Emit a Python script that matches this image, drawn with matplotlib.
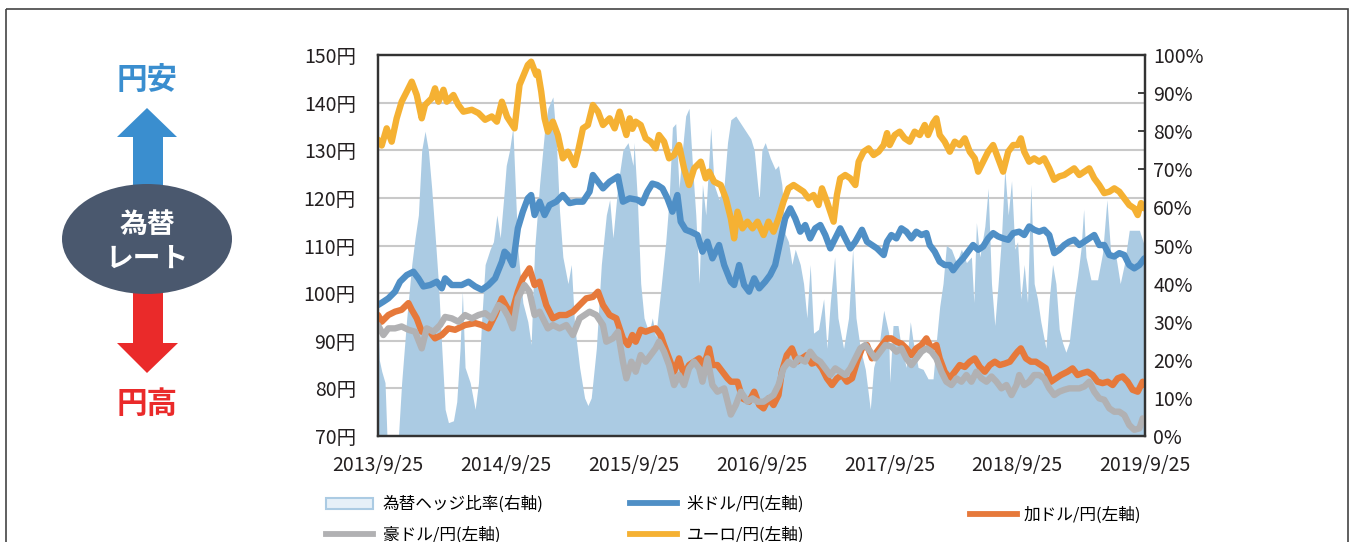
import matplotlib
matplotlib.use('Agg')
import matplotlib.pyplot as plt
from matplotlib.patches import Polygon, Ellipse, Rectangle, Patch
from matplotlib.lines import Line2D
from matplotlib.transforms import blended_transform_factory

plt.rcParams['font.family'] = ['Noto Sans CJK JP', 'DejaVu Sans']

# ---------------- data ----------------
date_labels = ['2013/9/25', '2014/9/25', '2015/9/25', '2016/9/25',
               '2017/9/25', '2018/9/25', '2019/9/25']
yen_ticks = [70, 80, 90, 100, 110, 120, 130, 140, 150]
pct_ticks = [0, 10, 20, 30, 40, 50, 60, 70, 80, 90, 100]

# time axis: years elapsed since 2013/9/25
eur = [(0.0, 132.2), (0.029, 131.0), (0.068, 134.6), (0.107, 131.8), (0.146, 136.7), (0.185, 140.2),
       (0.225, 142.3), (0.264, 144.4), (0.303, 141.6), (0.342, 136.7), (0.368, 139.5), (0.420, 140.9),
       (0.446, 143.0), (0.473, 140.2), (0.512, 142.7), (0.538, 140.2), (0.590, 141.6), (0.629, 139.5),
       (0.668, 138.1), (0.734, 138.5), (0.786, 137.8), (0.838, 136.4), (0.890, 137.1), (0.930, 136.0),
       (0.969, 140.2), (1.010, 137.0), (1.068, 134.6), (1.107, 143.7), (1.172, 147.9), (1.198, 148.6),
       (1.238, 145.8), (1.251, 146.5), (1.277, 142.3), (1.303, 136.7), (1.329, 133.9), (1.368, 136.0),
       (1.407, 133.2), (1.446, 128.3), (1.486, 129.7), (1.538, 126.9), (1.564, 129.7), (1.603, 134.6),
       (1.642, 135.3), (1.681, 139.5), (1.721, 138.1), (1.760, 135.3), (1.812, 136.7), (1.851, 134.6),
       (1.890, 138.1), (1.943, 133.2), (1.969, 136.7), (1.990, 134.5), (2.016, 136.0), (2.055, 135.3),
       (2.094, 132.5), (2.133, 131.8), (2.172, 130.4), (2.198, 133.2), (2.238, 131.8), (2.277, 128.3),
       (2.316, 129.0), (2.355, 131.1), (2.394, 126.2), (2.433, 122.7), (2.473, 126.2), (2.525, 127.6),
       (2.564, 124.1), (2.590, 125.5), (2.629, 123.4), (2.681, 122.7), (2.721, 119.9), (2.760, 115.7),
       (2.786, 111.5), (2.812, 117.1), (2.851, 113.6), (2.890, 115.0), (2.930, 113.6), (2.969, 115.0),
       (3.016, 112.2), (3.055, 115.0), (3.094, 112.9), (3.133, 115.7), (3.172, 119.2), (3.211, 122.0),
       (3.251, 122.7), (3.290, 122.0), (3.329, 121.3), (3.368, 119.9), (3.407, 120.6), (3.446, 118.5),
       (3.473, 122.0), (3.512, 119.2), (3.538, 117.1), (3.564, 115.0), (3.590, 120.6), (3.616, 124.1),
       (3.655, 124.8), (3.695, 124.1), (3.734, 122.7), (3.760, 127.6), (3.799, 129.7), (3.838, 130.4),
       (3.877, 129.0), (3.916, 129.7), (3.956, 131.1), (3.982, 133.6), (4.003, 131.1), (4.042, 133.2),
       (4.081, 133.9), (4.120, 132.5), (4.159, 131.8), (4.198, 133.9), (4.238, 133.2), (4.277, 135.3),
       (4.303, 133.2), (4.342, 135.7), (4.368, 136.7), (4.394, 133.2), (4.433, 131.8), (4.473, 129.7),
       (4.512, 131.8), (4.551, 131.1), (4.590, 132.5), (4.629, 129.7), (4.668, 128.3), (4.695, 125.5),
       (4.734, 127.6), (4.773, 129.7), (4.812, 131.1), (4.851, 128.3), (4.890, 125.5), (4.930, 129.7),
       (4.969, 131.1), (5.003, 131.1), (5.029, 132.5), (5.055, 129.7), (5.094, 127.6), (5.133, 128.3),
       (5.172, 127.6), (5.211, 128.3), (5.251, 126.2), (5.290, 123.8), (5.329, 124.5), (5.368, 124.8),
       (5.407, 125.5), (5.446, 126.2), (5.486, 124.8), (5.525, 125.5), (5.564, 126.2), (5.603, 124.1),
       (5.642, 122.7), (5.681, 121.0), (5.721, 121.3), (5.760, 122.0), (5.799, 121.3), (5.838, 119.9),
       (5.877, 118.5), (5.916, 117.8), (5.943, 116.4), (5.969, 118.9), (5.995, 117.8), (6.0, 118.5)]

usd = [(0.0, 97.5), (0.042, 98.2), (0.081, 98.9), (0.133, 100.3), (0.172, 102.4), (0.225, 103.8),
       (0.277, 104.5), (0.316, 103.1), (0.355, 101.4), (0.407, 101.7), (0.460, 102.4), (0.499, 101.0),
       (0.525, 103.1), (0.577, 101.7), (0.655, 101.7), (0.708, 102.4), (0.760, 101.4), (0.812, 100.7),
       (0.864, 101.7), (0.916, 103.1), (0.969, 106.6), (0.990, 108.7), (1.016, 108.0), (1.055, 105.9),
       (1.094, 113.6), (1.133, 117.1), (1.172, 119.9), (1.198, 120.6), (1.225, 116.4), (1.264, 119.2),
       (1.303, 116.4), (1.342, 118.5), (1.394, 119.2), (1.446, 120.6), (1.499, 118.9), (1.551, 119.2),
       (1.603, 119.2), (1.655, 121.3), (1.681, 124.8), (1.721, 123.4), (1.760, 122.0), (1.812, 123.4),
       (1.877, 124.5), (1.916, 119.2), (1.969, 119.9), (2.029, 119.6), (2.068, 118.9), (2.107, 121.3),
       (2.146, 123.0), (2.185, 122.7), (2.225, 122.0), (2.264, 119.9), (2.303, 117.1), (2.342, 120.6),
       (2.368, 115.0), (2.407, 113.3), (2.446, 112.9), (2.499, 112.2), (2.538, 108.7), (2.577, 110.8),
       (2.616, 107.3), (2.668, 110.1), (2.708, 105.9), (2.760, 102.4), (2.786, 101.7), (2.825, 105.9),
       (2.864, 101.7), (2.903, 100.3), (2.943, 103.1), (2.982, 101.0), (3.029, 102.4), (3.068, 103.8),
       (3.107, 105.9), (3.146, 110.8), (3.185, 115.7), (3.225, 117.8), (3.264, 115.7), (3.303, 112.9),
       (3.342, 114.3), (3.381, 111.5), (3.420, 113.6), (3.460, 114.3), (3.499, 112.2), (3.538, 109.4),
       (3.577, 111.5), (3.616, 113.6), (3.655, 111.5), (3.695, 109.4), (3.734, 110.8), (3.786, 113.3),
       (3.825, 110.8), (3.864, 110.1), (3.903, 109.4), (3.956, 108.0), (3.982, 110.8), (4.016, 112.2),
       (4.055, 111.5), (4.094, 113.6), (4.133, 112.9), (4.172, 111.5), (4.211, 112.9), (4.251, 112.2),
       (4.290, 112.6), (4.316, 110.1), (4.355, 108.7), (4.394, 106.6), (4.433, 105.9), (4.473, 105.9),
       (4.499, 104.8), (4.538, 106.2), (4.577, 107.3), (4.616, 108.7), (4.655, 110.1), (4.695, 109.1),
       (4.734, 109.8), (4.773, 111.5), (4.812, 112.6), (4.851, 111.9), (4.890, 111.5), (4.930, 111.2),
       (4.969, 112.6), (5.016, 112.9), (5.055, 112.2), (5.094, 114.0), (5.133, 113.3), (5.172, 112.9),
       (5.211, 113.3), (5.251, 112.2), (5.290, 108.4), (5.329, 109.1), (5.368, 110.1), (5.407, 110.8),
       (5.446, 111.2), (5.486, 110.1), (5.525, 110.8), (5.564, 111.5), (5.603, 112.2), (5.642, 110.1),
       (5.681, 110.1), (5.721, 108.0), (5.760, 107.7), (5.799, 108.4), (5.838, 108.0), (5.877, 105.9),
       (5.916, 105.2), (5.956, 105.9), (5.995, 107.3), (6.0, 107.0)]

cad = [(0.0, 95.4), (0.029, 94.0), (0.081, 95.4), (0.133, 96.1), (0.185, 96.5), (0.238, 97.9),
       (0.264, 96.5), (0.303, 94.7), (0.342, 91.9), (0.394, 92.3), (0.446, 90.5), (0.499, 91.2),
       (0.551, 92.6), (0.603, 92.3), (0.681, 93.3), (0.760, 93.7), (0.812, 93.3), (0.864, 92.6),
       (0.916, 95.4), (0.969, 98.9), (1.042, 95.4), (1.094, 100.3), (1.133, 103.1), (1.185, 105.2),
       (1.225, 101.7), (1.264, 102.4), (1.316, 97.5), (1.368, 94.7), (1.420, 95.4), (1.473, 95.4),
       (1.525, 96.1), (1.577, 97.5), (1.629, 98.9), (1.681, 99.2), (1.721, 100.3), (1.760, 97.5),
       (1.812, 95.4), (1.864, 94.7), (1.916, 90.5), (1.956, 89.1), (1.990, 91.2), (2.016, 89.8),
       (2.055, 92.3), (2.094, 91.9), (2.133, 92.3), (2.172, 92.6), (2.211, 91.2), (2.238, 89.1),
       (2.277, 86.3), (2.316, 83.5), (2.355, 86.3), (2.394, 82.8), (2.433, 84.9), (2.473, 85.6),
       (2.512, 86.3), (2.551, 84.9), (2.590, 88.4), (2.616, 84.9), (2.655, 84.9), (2.695, 83.5),
       (2.734, 82.1), (2.760, 81.4), (2.812, 81.4), (2.851, 77.9), (2.903, 77.2), (2.943, 79.3),
       (2.982, 76.5), (3.016, 75.8), (3.055, 77.9), (3.094, 76.5), (3.133, 78.6), (3.159, 83.5),
       (3.198, 87.0), (3.238, 88.4), (3.277, 85.6), (3.316, 86.3), (3.355, 87.0), (3.394, 85.2),
       (3.433, 85.6), (3.473, 84.2), (3.512, 82.1), (3.551, 80.7), (3.590, 82.1), (3.629, 82.8),
       (3.668, 81.4), (3.708, 82.1), (3.747, 85.6), (3.786, 88.4), (3.825, 89.1), (3.864, 86.3),
       (3.903, 87.7), (3.943, 89.1), (3.982, 90.5), (4.016, 90.5), (4.055, 89.8), (4.094, 89.4),
       (4.133, 88.4), (4.172, 87.0), (4.211, 88.4), (4.251, 89.1), (4.290, 90.5), (4.329, 88.4),
       (4.368, 89.1), (4.394, 86.3), (4.433, 83.5), (4.473, 82.1), (4.512, 83.5), (4.551, 84.9),
       (4.590, 84.5), (4.629, 85.6), (4.668, 86.3), (4.708, 84.5), (4.747, 83.5), (4.786, 84.9),
       (4.825, 85.6), (4.864, 84.9), (4.903, 85.2), (4.943, 85.6), (4.982, 87.0), (5.003, 87.7),
       (5.029, 88.4), (5.068, 86.3), (5.107, 85.6), (5.146, 85.6), (5.185, 84.9), (5.225, 84.2),
       (5.264, 81.4), (5.303, 82.1), (5.342, 82.8), (5.394, 83.5), (5.433, 84.2), (5.473, 82.8),
       (5.512, 83.2), (5.551, 83.5), (5.590, 82.8), (5.629, 81.4), (5.668, 81.1), (5.708, 81.4),
       (5.747, 80.7), (5.786, 82.1), (5.825, 82.5), (5.864, 81.4), (5.903, 79.7), (5.943, 79.3),
       (5.982, 81.4), (6.0, 80.7)]

aud = [(0.0, 93.3), (0.042, 91.2), (0.081, 92.6), (0.133, 92.6), (0.185, 93.0), (0.238, 92.3),
       (0.290, 91.9), (0.342, 88.4), (0.381, 92.6), (0.433, 91.9), (0.486, 93.3), (0.525, 95.0),
       (0.577, 94.7), (0.629, 94.0), (0.681, 95.4), (0.734, 94.7), (0.786, 95.4), (0.838, 95.8),
       (0.890, 94.7), (0.943, 97.5), (0.982, 96.8), (1.020, 95.0), (1.055, 92.6), (1.094, 98.9),
       (1.146, 101.7), (1.185, 100.3), (1.225, 95.4), (1.264, 96.1), (1.329, 92.6), (1.368, 93.3),
       (1.420, 92.6), (1.473, 93.3), (1.525, 91.2), (1.577, 94.7), (1.655, 96.1), (1.708, 95.4),
       (1.760, 93.3), (1.786, 89.8), (1.838, 90.5), (1.877, 91.9), (1.916, 85.6), (1.943, 82.1),
       (1.982, 85.6), (2.016, 83.5), (2.055, 87.0), (2.094, 85.6), (2.133, 87.0), (2.172, 88.4),
       (2.198, 89.8), (2.238, 87.7), (2.277, 84.9), (2.316, 80.7), (2.355, 82.8), (2.394, 80.7),
       (2.433, 84.2), (2.473, 85.6), (2.512, 84.2), (2.538, 81.4), (2.577, 86.3), (2.616, 80.7),
       (2.655, 79.3), (2.708, 80.0), (2.760, 74.5), (2.799, 76.5), (2.838, 79.3), (2.890, 77.2),
       (2.930, 77.9), (2.969, 77.2), (3.016, 77.2), (3.055, 77.9), (3.094, 78.6), (3.133, 80.7),
       (3.172, 84.2), (3.211, 85.6), (3.251, 84.9), (3.290, 86.3), (3.342, 85.6), (3.381, 87.7),
       (3.420, 86.3), (3.460, 85.6), (3.499, 84.2), (3.538, 82.8), (3.577, 84.2), (3.616, 83.5),
       (3.655, 82.8), (3.695, 84.2), (3.734, 86.3), (3.773, 88.4), (3.812, 89.1), (3.851, 87.7),
       (3.890, 86.3), (3.930, 87.7), (3.969, 89.1), (4.016, 88.8), (4.055, 87.7), (4.094, 88.4),
       (4.133, 86.3), (4.172, 84.9), (4.211, 86.3), (4.251, 87.7), (4.290, 88.4), (4.329, 87.7),
       (4.368, 86.3), (4.407, 83.5), (4.446, 81.4), (4.486, 80.7), (4.525, 82.1), (4.564, 81.4),
       (4.603, 82.8), (4.642, 81.4), (4.681, 83.5), (4.721, 82.1), (4.760, 81.4), (4.799, 82.5),
       (4.838, 81.4), (4.877, 80.0), (4.916, 80.7), (4.956, 78.6), (4.995, 80.7), (5.016, 82.8),
       (5.055, 80.7), (5.094, 81.4), (5.133, 82.8), (5.172, 82.8), (5.211, 82.1), (5.251, 80.0),
       (5.290, 78.6), (5.329, 79.3), (5.368, 79.7), (5.407, 80.0), (5.446, 80.0), (5.486, 80.0),
       (5.525, 80.4), (5.564, 81.4), (5.603, 79.3), (5.642, 77.9), (5.681, 77.6), (5.721, 75.8),
       (5.760, 75.1), (5.799, 75.1), (5.838, 74.4), (5.877, 72.3), (5.916, 71.3), (5.956, 71.6),
       (5.982, 73.7), (6.0, 73.0)]

hedge = [(0.0, 32), (0.010, 20), (0.029, 17), (0.055, 14), (0.070, 0), (0.160, 0), (0.185, 14),
         (0.225, 31), (0.264, 45), (0.290, 52), (0.316, 58), (0.342, 75), (0.368, 80), (0.394, 75),
         (0.420, 65), (0.446, 53), (0.473, 40), (0.499, 23), (0.525, 7), (0.551, 3.5), (0.590, 4),
         (0.616, 9), (0.642, 23), (0.660, 38), (0.681, 18), (0.721, 14), (0.760, 7), (0.786, 14),
         (0.812, 31), (0.838, 45), (0.877, 49), (0.903, 51), (0.930, 58), (0.956, 52), (0.982, 62),
         (1.003, 71), (1.029, 75), (1.055, 81), (1.094, 49), (1.133, 35), (1.172, 30), (1.198, 24),
         (1.225, 49), (1.264, 66), (1.303, 80), (1.329, 86), (1.368, 89), (1.394, 78), (1.420, 59),
         (1.446, 47), (1.486, 40), (1.512, 45), (1.538, 29), (1.577, 18), (1.616, 10), (1.642, 8),
         (1.668, 10), (1.708, 23), (1.747, 45), (1.786, 58), (1.812, 62), (1.838, 52), (1.877, 66),
         (1.916, 75), (1.956, 77), (1.995, 71), (2.003, 77), (2.029, 62), (2.055, 40), (2.081, 31),
         (2.120, 27), (2.146, 31), (2.172, 26), (2.211, 38), (2.251, 51), (2.277, 62), (2.303, 81),
         (2.329, 82), (2.355, 65), (2.381, 75), (2.407, 84), (2.433, 86), (2.460, 71), (2.486, 58),
         (2.512, 40), (2.538, 66), (2.564, 58), (2.603, 81), (2.629, 66), (2.668, 62), (2.708, 66),
         (2.734, 77), (2.760, 83), (2.799, 84), (2.838, 82), (2.877, 80), (2.916, 78), (2.943, 75),
         (2.969, 66), (2.982, 62), (3.003, 75), (3.029, 77), (3.068, 73), (3.107, 70), (3.133, 71),
         (3.159, 66), (3.185, 53), (3.211, 51), (3.238, 45), (3.264, 49), (3.303, 45), (3.329, 40),
         (3.355, 31), (3.381, 45), (3.407, 27), (3.446, 28), (3.486, 36), (3.512, 23), (3.538, 35),
         (3.572, 47), (3.598, 31), (3.642, 23), (3.681, 31), (3.713, 49), (3.739, 31), (3.773, 23),
         (3.812, 17.5), (3.851, 7), (3.877, 18), (3.916, 23), (3.956, 33), (3.995, 27), (4.003, 14),
         (4.029, 29), (4.068, 29), (4.094, 23), (4.133, 18), (4.164, 30), (4.185, 25), (4.225, 18),
         (4.264, 17.5), (4.303, 15), (4.342, 15), (4.368, 25), (4.394, 34), (4.420, 40), (4.446, 50),
         (4.486, 49), (4.525, 45.5), (4.564, 49), (4.603, 45.5), (4.642, 47), (4.661, 35), (4.681, 56),
         (4.708, 47), (4.747, 55), (4.773, 65), (4.799, 40), (4.825, 29), (4.851, 40), (4.877, 52),
         (4.903, 70), (4.930, 58), (4.956, 67), (4.982, 49), (5.003, 51), (5.029, 36), (5.055, 45),
         (5.081, 35), (5.107, 66), (5.133, 40), (5.159, 36), (5.185, 30), (5.225, 23), (5.251, 36),
         (5.277, 45), (5.303, 40), (5.329, 28), (5.355, 24.5), (5.381, 22), (5.407, 24.5), (5.446, 36),
         (5.473, 42), (5.499, 49), (5.520, 59.5), (5.538, 47), (5.577, 41), (5.629, 41), (5.668, 48),
         (5.702, 62), (5.734, 47), (5.773, 47), (5.806, 40), (5.838, 45), (5.877, 54), (5.916, 54),
         (5.956, 54), (5.995, 50), (6.0, 50)]

# ---------------- styling ----------------
C_AREA = '#abcbe3'
C_USD = '#4f8fc6'
C_EUR = '#f5b133'
C_CAD = '#e6793b'
C_AUD = '#b1b1b3'
C_TEXT = '#231f20'
C_SPINE = '#333333'

W, H = 1357, 542
fig = plt.figure(figsize=(W / 100, H / 100), dpi=100)
fig.patch.set_facecolor('white')

# overlay for the left-hand explanatory graphic and the outer frame (pixel coords)
ov = fig.add_axes([0, 0, 1, 1])
ov.set_xlim(0, W)
ov.set_ylim(H, 0)
ov.axis('off')
ov.add_patch(Rectangle((6, 9), 1342, 560, fill=False, edgecolor='#444444', lw=1.2))
ov.add_patch(Polygon([(133, 200), (133, 137), (117, 137), (147, 108), (177, 137), (163, 137), (163, 200)],
                     closed=True, facecolor='#3a8ecf', edgecolor='none'))
ov.add_patch(Polygon([(133, 280), (133, 343), (117, 343), (147, 373), (178, 343), (163, 343), (163, 280)],
                     closed=True, facecolor='#ea2a2a', edgecolor='none'))
ov.add_patch(Ellipse((147, 239), 170, 110, facecolor='#4a586e', edgecolor='none'))
ov.text(147, 80, '円安', color='#3a8ecf', fontsize=22, fontweight='bold', ha='center', va='center')
ov.text(147, 404, '円高', color='#ea2a2a', fontsize=22, fontweight='bold', ha='center', va='center')
ov.text(147, 225, '為替', color='white', fontsize=20, fontweight='bold', ha='center', va='center')
ov.text(147, 259, 'レート', color='white', fontsize=20, fontweight='bold', ha='center', va='center')

# main axes: host = hedge ratio (right scale, drawn below), twin = exchange rates (left scale)
ax = fig.add_axes([378 / W, 1 - 436 / H, 767 / W, 381 / H])
ax2 = ax.twinx()

ht, hv = zip(*hedge)
ax.fill_between(ht, hv, 0, color=C_AREA, lw=0, zorder=2)

# horizontal grid for the yen scale, kept beneath the area
blend = blended_transform_factory(ax.transAxes, ax2.transData)
for v in yen_ticks[1:-1]:
    ax.add_line(Line2D([0, 1], [v, v], transform=blend, color='#c9c9c9', lw=1.5, zorder=1))

lw = 4.6
for series, col in [(usd, C_USD), (cad, C_CAD), (aud, C_AUD), (eur, C_EUR)]:
    t, v = zip(*series)
    ax2.plot(t, v, color=col, lw=lw, solid_capstyle='round', solid_joinstyle='round')

ax.set_xlim(0, 6)
ax.set_ylim(0, 100)
ax2.set_ylim(70, 150)

ax.set_xticks(range(len(date_labels)))
ax.set_xticklabels(date_labels)
ax.tick_params(axis='x', direction='in', length=6, width=1.3, pad=14, labelsize=14,
               colors=C_SPINE, labelcolor=C_TEXT)

ax.yaxis.tick_right()
ax.set_yticks(pct_ticks)
ax.set_yticklabels([f'{p}%' for p in pct_ticks])
ax.tick_params(axis='y', direction='in', length=5, width=1.3, pad=6, labelsize=14,
               colors=C_SPINE, labelcolor=C_TEXT)

ax2.yaxis.tick_left()
ax2.set_yticks(yen_ticks)
ax2.set_yticklabels([f'{v}円' for v in yen_ticks])
ax2.tick_params(axis='y', length=0, pad=16, labelsize=14, labelcolor=C_TEXT)

for a in (ax, ax2):
    for s in a.spines.values():
        s.set_color(C_SPINE)
        s.set_linewidth(1.6)

# legend
h_hedge = Patch(facecolor='#e6f0f8', edgecolor=C_AREA, lw=1.5)
h_usd = Line2D([], [], color=C_USD, lw=4.2)
h_cad = Line2D([], [], color=C_CAD, lw=4.2)
h_aud = Line2D([], [], color=C_AUD, lw=4.2)
h_eur = Line2D([], [], color=C_EUR, lw=4.2)

fig.legend([h_hedge, h_aud, h_usd, h_eur],
           ['為替ヘッジ比率(右軸)', '豪ドル/円(左軸)', '米ドル/円(左軸)', 'ユーロ/円(左軸)'],
           ncol=2, loc='upper left', bbox_to_anchor=(326 / W, 1 - 496 / H),
           frameon=False, fontsize=12, handlelength=2.8, handletextpad=0.6,
           columnspacing=5.2, labelspacing=0.8, borderpad=0, borderaxespad=0)
fig.legend([h_cad], ['加ドル/円(左軸)'], loc='upper left', bbox_to_anchor=(970 / W, 1 - 507 / H),
           frameon=False, fontsize=12, handlelength=2.8, handletextpad=0.4,
           borderpad=0, borderaxespad=0)

fig.savefig('out.png', dpi=100)
